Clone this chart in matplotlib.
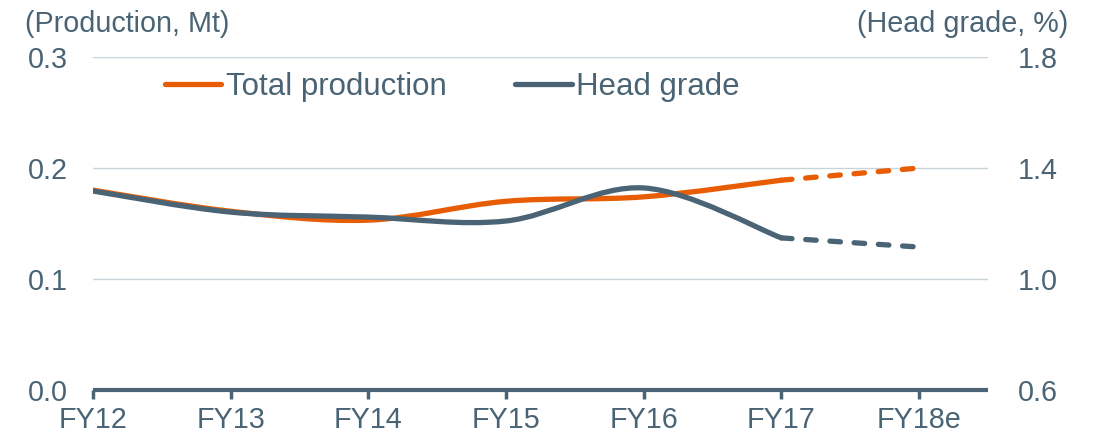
import matplotlib
matplotlib.use("Agg")
import matplotlib.pyplot as plt
from matplotlib.path import Path
from matplotlib.patches import PathPatch

years = ["FY12", "FY13", "FY14", "FY15", "FY16", "FY17", "FY18e"]
production = [0.180, 0.161, 0.153, 0.170, 0.174, 0.189, 0.200]
head_grade = [1.317, 1.241, 1.223, 1.209, 1.328, 1.148, 1.115]

ORANGE = "#E85D04"
SLATE = "#4A6475"
GRID = "#C8D4DA"

plt.rcParams["font.family"] = ["Liberation Sans", "DejaVu Sans"]


def smooth_path(xs, ys):
    # Excel-style smoothed line: cubic Bezier segments with tangents from neighbours
    n = len(xs)
    verts = [(xs[0], ys[0])]
    codes = [Path.MOVETO]
    for i in range(n - 1):
        x0, y0 = xs[max(i - 1, 0)], ys[max(i - 1, 0)]
        x1, y1 = xs[i], ys[i]
        x2, y2 = xs[i + 1], ys[i + 1]
        x3, y3 = xs[min(i + 2, n - 1)], ys[min(i + 2, n - 1)]
        c1 = (x1 + (x2 - x0) / 6, y1 + (y2 - y0) / 6)
        c2 = (x2 - (x3 - x1) / 6, y2 - (y3 - y1) / 6)
        verts += [c1, c2, (x2, y2)]
        codes += [Path.CURVE4] * 3
    return Path(verts, codes)


fig = plt.figure(figsize=(10.99, 4.37), dpi=100)
ax = fig.add_axes([0.0846, 0.1076, 0.8144, 0.762])
ax2 = ax.twinx()

x = list(range(len(years)))
ax.set_xlim(0, 6.5)
ax.set_ylim(0, 0.3)
ax2.set_ylim(0.6, 1.8)

for a in (ax, ax2):
    for s in a.spines.values():
        s.set_visible(False)
ax.spines["bottom"].set_visible(True)
ax.spines["bottom"].set_color(SLATE)
ax.spines["bottom"].set_linewidth(3)
ax.spines["bottom"].set_capstyle("butt")

ax.set_yticks([0.0, 0.1, 0.2, 0.3])
ax.set_yticklabels(["0.0", "0.1", "0.2", "0.3"])
ax2.set_yticks([0.6, 1.0, 1.4, 1.8])
ax2.set_yticklabels(["0.6", "1.0", "1.4", "1.8"])
for yv in [0.1, 0.2, 0.3]:
    ax.axhline(yv, color=GRID, lw=1.0, zorder=0)

ax.set_xticks(x)
ax.set_xticklabels(years)
ax.tick_params(axis="x", colors=SLATE, labelsize=20.7, length=6.5, width=2.5, pad=5)
ax.tick_params(axis="y", colors=SLATE, labelsize=20.7, length=0, pad=18)
ax2.tick_params(axis="y", colors=SLATE, labelsize=20.7, length=0, pad=21.5)

lw = 3.8
dash = (0, (2.0, 2.6))
# solid actuals
ax.add_patch(PathPatch(smooth_path(x[:6], production[:6]), fill=False,
                       edgecolor=ORANGE, lw=lw, capstyle="round", zorder=3))
ax2.add_patch(PathPatch(smooth_path(x[:6], head_grade[:6]), fill=False,
                        edgecolor=SLATE, lw=lw, capstyle="round", zorder=3))
# dashed estimate
ax.plot(x[5:], production[5:], color=ORANGE, lw=lw, ls=dash,
        dash_capstyle="round", zorder=3)
ax2.plot(x[5:], head_grade[5:], color=SLATE, lw=lw, ls=dash,
         dash_capstyle="round", zorder=3)

# legend
h1, = ax.plot([], [], color=ORANGE, lw=lw, solid_capstyle="round",
              label="Total production")
h2, = ax.plot([], [], color=SLATE, lw=lw, solid_capstyle="round",
              label="Head grade")
ax.legend(handles=[h1, h2], loc="center left", bbox_to_anchor=(0.150, 0.800),
          bbox_transform=fig.transFigure, borderpad=0, borderaxespad=0,
          ncol=2, frameon=False, fontsize=22.5, handlelength=1.8,
          handletextpad=0.15, columnspacing=2.2, labelcolor=SLATE)

fig.text(0.023, 0.945, "(Production, Mt)", color=SLATE, fontsize=20.7,
         ha="left", va="center")
fig.text(0.972, 0.945, "(Head grade, %)", color=SLATE, fontsize=20.7,
         ha="right", va="center")

fig.savefig("out.png", dpi=100)
